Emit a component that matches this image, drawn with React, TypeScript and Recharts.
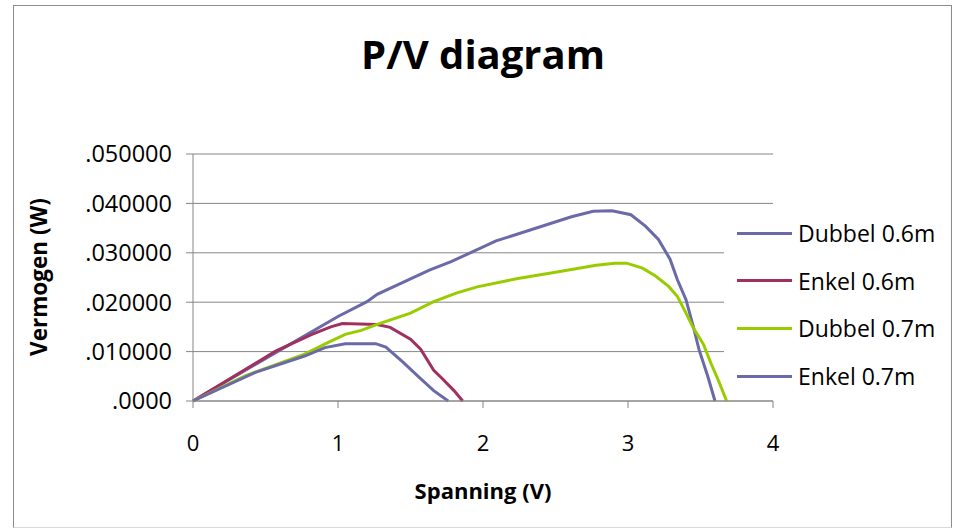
import { LineChart, Line, XAxis, YAxis, CartesianGrid } from 'recharts';

// Spanning (V) / Vermogen (W) per measurement series
const dubbel06V = [0, 0.57, 1.0, 1.2, 1.27, 1.63, 1.78, 2.09, 2.61, 2.76, 2.89, 3.02, 3.12, 3.21, 3.29, 3.34, 3.4, 3.45, 3.49, 3.55, 3.6];
const dubbel06P = [0, 0.0098, 0.0171, 0.0201, 0.0216, 0.0265, 0.0282, 0.0324, 0.0373, 0.0384, 0.0385, 0.0377, 0.0354, 0.0327, 0.0287, 0.0246, 0.0205, 0.0151, 0.0104, 0.005, 0];

const enkel06V = [0, 0.57, 0.82, 0.95, 1.03, 1.27, 1.36, 1.5, 1.57, 1.66, 1.72, 1.8, 1.86];
const enkel06P = [0, 0.0101, 0.0135, 0.015, 0.0157, 0.0155, 0.0149, 0.0125, 0.0105, 0.0062, 0.0045, 0.0021, 0];

const dubbel07V = [0, 0.36, 0.77, 0.93, 1.05, 1.16, 1.27, 1.5, 1.66, 1.82, 1.96, 2.24, 2.49, 2.78, 2.91, 2.99, 3.1, 3.19, 3.28, 3.34, 3.4, 3.45, 3.52, 3.57, 3.63, 3.68];
const dubbel07P = [0, 0.0051, 0.0095, 0.0118, 0.0135, 0.0143, 0.0155, 0.0178, 0.0201, 0.0219, 0.0231, 0.0248, 0.026, 0.0275, 0.0279, 0.0279, 0.0269, 0.0253, 0.0232, 0.0212, 0.0178, 0.0148, 0.0115, 0.0078, 0.0037, 0];

const enkel07V = [0, 0.43, 0.77, 0.91, 1.05, 1.26, 1.33, 1.45, 1.56, 1.66, 1.76];
const enkel07P = [0, 0.0058, 0.0091, 0.0108, 0.0116, 0.0116, 0.0109, 0.0078, 0.0048, 0.0021, 0];

const xTicks = [0, 1, 2, 3, 4];
const yTicks = [0, 0.01, 0.02, 0.03, 0.04, 0.05];
const yTickLabels = ['.0000', '.010000', '.020000', '.030000', '.040000', '.050000'];

const toPoints = (v: number[], p: number[]) => v.map((x, i) => ({ v: x, p: p[i] }));

const series = [
  { name: 'Dubbel 0.6m', color: '#6a6aa8', data: toPoints(dubbel06V, dubbel06P) },
  { name: 'Enkel 0.6m', color: '#a0305f', data: toPoints(enkel06V, enkel06P) },
  { name: 'Dubbel 0.7m', color: '#99cc00', data: toPoints(dubbel07V, dubbel07P) },
  { name: 'Enkel 0.7m', color: '#6a6aa8', data: toPoints(enkel07V, enkel07P) },
];

const font = '"Open Sans", sans-serif';

export default function App() {
  return (
    <div style={{ position: 'absolute', left: 0, top: 0, width: 959, height: 529, background: '#fff' }}>
      <div style={{ position: 'absolute', left: 13, top: 5, width: 937, height: 521, border: '1.5px solid #8c8c8c', borderBottomColor: '#d9d9d9' }} />
      <LineChart width={959} height={529} margin={{ top: 154, right: 186, left: 0, bottom: 0 }}>
        <CartesianGrid vertical={false} stroke="#868686" strokeWidth={1} />
        <XAxis
          dataKey="v"
          type="number"
          domain={[0, 4]}
          ticks={xTicks}
          height={128}
          stroke="#868686"
          tickSize={7}
          tickMargin={27}
          tick={{ fill: '#000', fontSize: 22, fontFamily: font }}
          allowDuplicatedCategory={false}
        />
        <YAxis
          dataKey="p"
          type="number"
          domain={[0, 0.05]}
          ticks={yTicks}
          width={193}
          stroke="#868686"
          tickSize={7}
          tickMargin={14}
          tick={{ fill: '#000', fontSize: 23.5, fontFamily: font }}
          tickFormatter={(val: number) => yTickLabels[yTicks.indexOf(val)] ?? String(val)}
        />
        {series.map((s) => (
          <Line
            key={s.name}
            data={s.data}
            dataKey="p"
            name={s.name}
            type="linear"
            stroke={s.color}
            strokeWidth={3}
            dot={false}
            activeDot={false}
            isAnimationActive={false}
          />
        ))}
      </LineChart>
      {/* legend box sits over the right edge of the plot area */}
      <div style={{ position: 'absolute', left: 724, top: 210, width: 224, height: 170, background: '#fff' }}>
        {series.map((s, i) => (
          <div key={s.name} style={{ position: 'absolute', left: 13, top: 23 + i * 47.7 - 16, height: 32, display: 'flex', alignItems: 'center' }}>
            <div style={{ width: 55, height: 3, background: s.color }} />
            <span style={{ marginLeft: 6, fontFamily: font, fontSize: 23, color: '#000', whiteSpace: 'nowrap' }}>{s.name}</span>
          </div>
        ))}
      </div>
      <div style={{ position: 'absolute', left: 0, width: 966, top: 27, textAlign: 'center', fontFamily: font, fontWeight: 700, fontSize: 40, lineHeight: '54px', color: '#000' }}>
        P/V diagram
      </div>
      <div style={{ position: 'absolute', left: 0, width: 966, top: 476, textAlign: 'center', fontFamily: font, fontWeight: 700, fontSize: 22, lineHeight: '28px', color: '#000' }}>
        Spanning (V)
      </div>
      <div style={{ position: 'absolute', left: 39, top: 277, transform: 'translate(-50%, -50%) rotate(-90deg)', fontFamily: font, fontWeight: 700, fontSize: 22.5, lineHeight: '28px', color: '#000', whiteSpace: 'nowrap' }}>
        Vermogen (W)
      </div>
    </div>
  );
}
